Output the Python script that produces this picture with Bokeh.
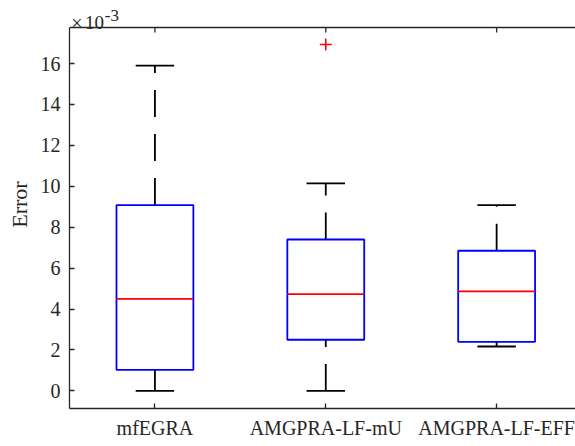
from bokeh.plotting import figure
from bokeh.models import Range1d, FixedTicker, ColumnDataSource, Span
from bokeh.core.properties import value
from bokeh.embed import file_html
from bokeh.resources import INLINE

# Data (values in units of 1e-3)
categories = ["mfEGRA", "AMGPRA-LF-mU", "AMGPRA-LF-EFF"]
lower_whisker = [0.0, 0.0, 2.17]
q1 = [1.03, 2.50, 2.40]
median = [4.50, 4.73, 4.86]
q3 = [9.08, 7.40, 6.85]
upper_whisker = [15.9, 10.14, 9.08]
outlier_cat = [2]
outlier_val = [16.93]
y_ticks = [0, 2, 4, 6, 8, 10, 12, 14, 16]
exponent_parts = ["×", "10", "-3"]

FONT = "Liberation Serif"
AX_COLOR = "#262626"

pos = [1, 2, 3]
box_w = 0.45
cap_w = 0.225

# layout geometry (pixels)
W, H = 575, 446
left_px, top_px, bottom_px = 69, 27, 38
frame_w = W - left_px
frame_h = H - bottom_px            # frame runs to the canvas top
axes_h = frame_h - top_px          # visible axes box height
y_lo, y_top = -0.86, 17.76         # axes box limits
scale = axes_h / (y_top - y_lo)    # px per unit
y_hi = y_top + top_px / scale
cat_px = 170.85
x_hi = 0.5 + frame_w / cat_px

p = figure(width=W, height=H, output_backend="svg", toolbar_location=None,
           x_range=Range1d(0.5, x_hi), y_range=Range1d(y_lo, y_hi),
           min_border_left=left_px, min_border_right=0, min_border_top=0,
           min_border_bottom=bottom_px)
p.grid.visible = False
p.outline_line_color = None
p.background_fill_color = "white"
p.border_fill_color = "white"

for ax in [p.xaxis[0], p.yaxis[0]]:
    ax.axis_line_color = AX_COLOR
    ax.axis_line_width = 1.3
    ax.major_tick_line_color = AX_COLOR
    ax.major_tick_line_width = 1.3
    ax.major_tick_in = 5
    ax.major_tick_out = 0
    ax.minor_tick_line_color = None
    ax.major_label_text_font = FONT
    ax.major_label_text_font_size = "20px"
    ax.major_label_text_color = AX_COLOR

p.xaxis.ticker = FixedTicker(ticks=pos)
p.xaxis.major_label_overrides = {i: c for i, c in zip(pos, categories)}
p.xaxis.major_label_standoff = 8
p.yaxis.ticker = FixedTicker(ticks=y_ticks)
p.yaxis.bounds = (y_lo, y_top)
p.yaxis.major_label_standoff = 9
p.yaxis.axis_label = "Error"
p.yaxis.axis_label_text_font = FONT
p.yaxis.axis_label_text_font_size = "22px"
p.yaxis.axis_label_text_font_style = "normal"
p.yaxis.axis_label_text_color = AX_COLOR
p.yaxis.axis_label_standoff = 6

# top spine with inward ticks
p.add_layout(Span(location=y_top, dimension="width", line_color=AX_COLOR, line_width=1.3))
tick_len = 5 / scale
p.segment(x0=pos, y0=[y_top] * 3, x1=pos, y1=[y_top - tick_len] * 3,
          line_color=AX_COLOR, line_width=1.3)

src = ColumnDataSource(dict(
    x=pos, left=[x - box_w / 2 for x in pos], right=[x + box_w / 2 for x in pos],
    cl=[x - cap_w / 2 for x in pos], cr=[x + cap_w / 2 for x in pos],
    lw=lower_whisker, q1=q1, med=median, q3=q3, uw=upper_whisker))

# whiskers (dashed), drawn in increasing value direction
p.segment(x0="x", y0="q3", x1="x", y1="uw", source=src, line_color="black",
          line_width=1.8, line_dash="27 17")
p.segment(x0="x", y0="lw", x1="x", y1="q1", source=src, line_color="black",
          line_width=1.8, line_dash="27 17")
# caps
p.segment(x0="cl", y0="uw", x1="cr", y1="uw", source=src, line_color="black", line_width=1.8)
p.segment(x0="cl", y0="lw", x1="cr", y1="lw", source=src, line_color="black", line_width=1.8)
# boxes
p.quad(left="left", right="right", bottom="q1", top="q3", source=src,
       fill_color=None, line_color="#0000FF", line_width=1.8)
# medians
p.segment(x0="left", y0="med", x1="right", y1="med", source=src, line_color="#FF0000", line_width=1.8)
# outliers
p.scatter(x=outlier_cat, y=outlier_val, marker="cross", size=12, line_color="#FF0000",
          line_width=1.5)

# exponent label  (x 10^-3), placed just above the top-left corner of the axes box
sizes = ["20px", "19px", "17px"]
dx = [1.7, 15.6, 35.3]
dy = [-5, -5, -12]
for t, s, ox, oy in zip(exponent_parts, sizes, dx, dy):
    p.text(x=[0.5], y=[y_top], text=[t], x_offset=ox, y_offset=oy,
           text_font=value(FONT), text_font_size=value(s), text_color=AX_COLOR,
           text_baseline="alphabetic", text_align="left")

open("out.html", "w").write(file_html(p, INLINE))
